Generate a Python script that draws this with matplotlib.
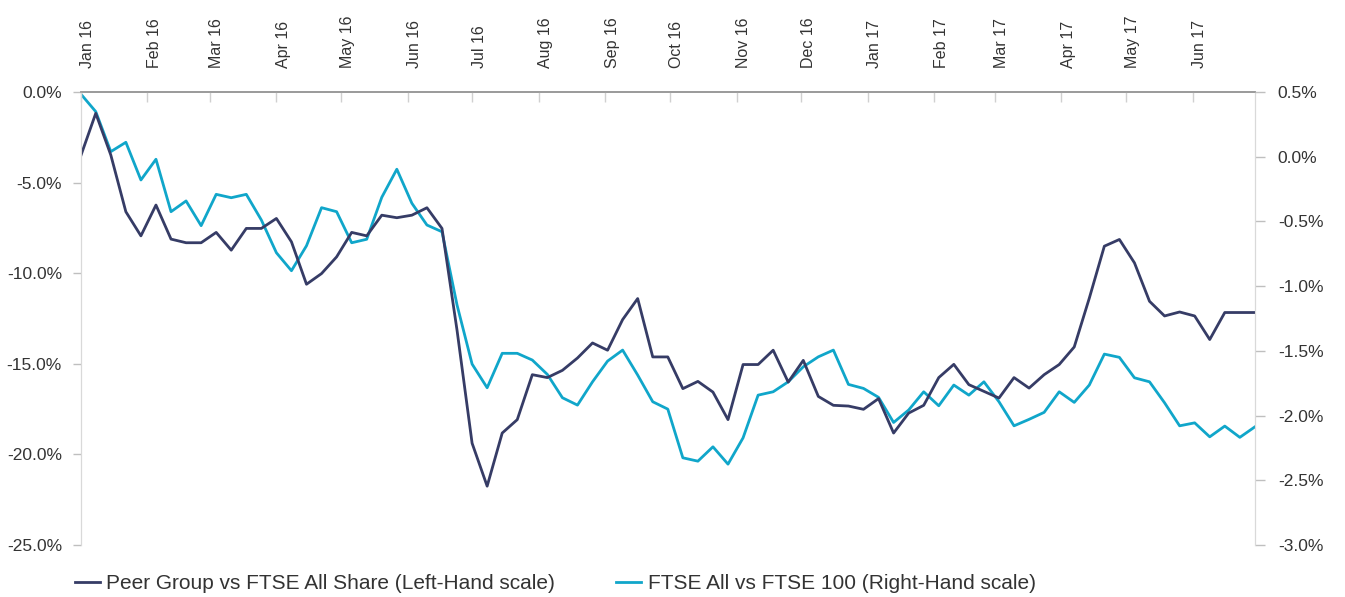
import numpy as np
import pandas as pd
import matplotlib
matplotlib.use("Agg")
import matplotlib.pyplot as plt
import matplotlib.transforms as mtransforms
from matplotlib.ticker import FuncFormatter

plt.rcParams['font.family'] = ['Liberation Sans', 'DejaVu Sans']

# weekly readings, Fridays 1 Jan 2016 .. 30 Jun 2017
dates = pd.date_range("2016-01-01", "2017-06-30", freq="7D")

# Peer Group vs FTSE All Share (left scale, %)
peer = [-3.54, -1.18, -3.48, -6.61, -7.94, -6.24, -8.12, -8.32, -8.32, -7.75,
        -8.73, -7.53, -7.53, -6.98, -8.27, -10.61, -10.02, -9.10, -7.75, -7.94,
        -6.80, -6.94, -6.80, -6.39, -7.53, -13.15, -19.38, -21.75, -18.82, -18.08,
        -15.60, -15.76, -15.36, -14.68, -13.85, -14.25, -12.56, -11.40, -14.62, -14.62,
        -16.37, -15.97, -16.56, -18.08, -15.04, -15.04, -14.25, -16.01, -14.81, -16.80,
        -17.29, -17.33, -17.51, -16.92, -18.82, -17.72, -17.29, -15.76, -15.03, -16.15,
        -16.52, -16.89, -15.76, -16.34, -15.60, -15.04, -14.07, -11.38, -8.51, -8.14,
        -9.43, -11.55, -12.36, -12.14, -12.36, -13.66, -12.17, -12.17, -12.17]

# FTSE All vs FTSE 100 (right scale, %)
ftse = [0.485, 0.348, 0.039, 0.111, -0.180, -0.020, -0.425, -0.342, -0.533, -0.291,
        -0.317, -0.291, -0.489, -0.742, -0.881, -0.688, -0.394, -0.425, -0.665, -0.638,
        -0.314, -0.097, -0.360, -0.528, -0.580, -1.146, -1.602, -1.785, -1.519, -1.519,
        -1.571, -1.682, -1.862, -1.919, -1.739, -1.579, -1.494, -1.687, -1.893, -1.950,
        -2.326, -2.352, -2.241, -2.375, -2.172, -1.842, -1.816, -1.739, -1.623, -1.546,
        -1.494, -1.759, -1.790, -1.859, -2.053, -1.957, -1.816, -1.924, -1.764, -1.842,
        -1.739, -1.893, -2.079, -2.029, -1.975, -1.816, -1.898, -1.764, -1.525, -1.550,
        -1.708, -1.739, -1.901, -2.079, -2.056, -2.164, -2.081, -2.168, -2.087]

months = pd.date_range("2016-01-01", "2017-06-01", freq="MS")
month_labels = [d.strftime("%b %y") for d in months]

navy = "#363c66"
cyan = "#10a6ca"
txt = "#333333"

fig = plt.figure(figsize=(13.45, 5.97), dpi=100)
ax = fig.add_axes([0.06, 0.087, 0.873, 0.759])
ax2 = ax.twinx()

l1, = ax.plot(dates, peer, color=navy, lw=2.0)
l2, = ax2.plot(dates, ftse, color=cyan, lw=2.0)
ax.set_zorder(ax2.get_zorder() + 1)
ax.patch.set_visible(False)

ax.set_xlim(pd.Timestamp("2016-01-01"), pd.Timestamp("2017-06-30"))
ax.set_ylim(-25, 0)
ax2.set_ylim(-3.0, 0.5)
ax.set_yticks(np.arange(-25, 0.1, 5))
ax2.set_yticks(np.arange(-3.0, 0.51, 0.5))
ax.yaxis.set_major_formatter(FuncFormatter(lambda v, p: f"{v:.1f}%"))
ax2.yaxis.set_major_formatter(FuncFormatter(lambda v, p: f"{v:.1f}%"))

ax.xaxis.tick_top()
ax.set_xticks(months)
ax.set_xticklabels(month_labels, rotation=90, fontsize=11.5, color=txt)
ax.tick_params(axis='x', direction='in', length=7, width=1, color="#d0d0d0", pad=17)
off = mtransforms.ScaledTranslation(7 / 100, 0, fig.dpi_scale_trans)
for lab in ax.get_xticklabels():
    lab.set_transform(lab.get_transform() + off)

ax.tick_params(axis='y', length=5.5, width=1, color="#bfbfbf", labelsize=12.5, labelcolor=txt, pad=8)
ax2.tick_params(axis='y', length=7.5, width=1, color="#bfbfbf", labelsize=12.5, labelcolor=txt, pad=9)

for a in (ax, ax2):
    a.spines['bottom'].set_visible(False)
    a.spines['left'].set_color("#d9d9d9")
    a.spines['right'].set_color("#d9d9d9")
    a.spines['top'].set_color("#9a9a9a")
    a.spines['top'].set_linewidth(1.2)

fig.legend([l1, l2],
           ["Peer Group vs FTSE All Share (Left-Hand scale)",
            "FTSE All vs FTSE 100 (Right-Hand scale)"],
           loc="lower left", bbox_to_anchor=(0.042, -0.025), ncol=2, frameon=False,
           fontsize=15, handlelength=1.2, handletextpad=0.3, columnspacing=2.93,
           labelcolor=txt)

fig.savefig("out.png", dpi=100)
